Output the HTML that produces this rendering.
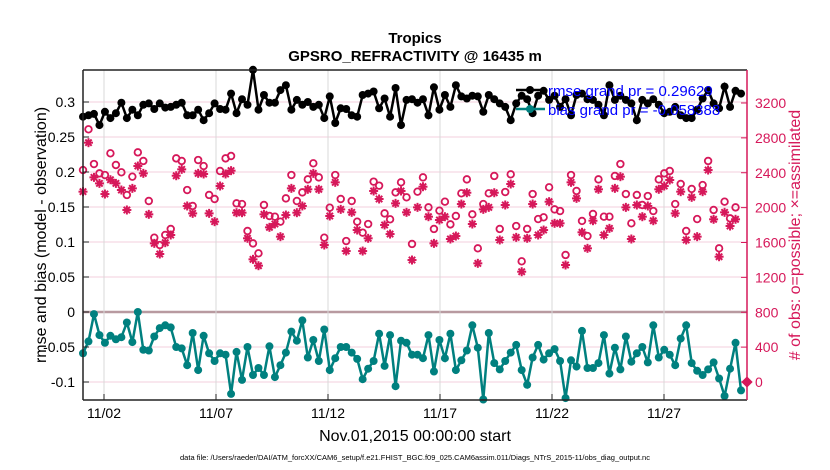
<!DOCTYPE html>
<html><head><meta charset="utf-8">
<style>
body{margin:0;background:#fff;}
svg{display:block;font-family:"Liberation Sans",sans-serif;}
</style></head>
<body>
<svg id="chart" width="830" height="470" viewBox="0 0 830 470" xmlns="http://www.w3.org/2000/svg">
<g id="grid"></g>
<g id="series"></g>
<g id="axes"></g>
<text x="415" y="43" text-anchor="middle" font-size="15" font-weight="bold">Tropics</text>
<text x="415" y="61" text-anchor="middle" font-size="15" font-weight="bold">GPSRO_REFRACTIVITY @ 16435 m</text>
<text transform="translate(46,235) rotate(-90)" text-anchor="middle" font-size="16">rmse and bias (model - observation)</text>
<text transform="translate(800,235) rotate(-90)" text-anchor="middle" font-size="16" fill="#d6185a"># of obs: o=possible; ×=assimilated</text>
<text x="415" y="441" text-anchor="middle" font-size="16">Nov.01,2015 00:00:00 start</text>
<text x="415" y="460" text-anchor="middle" font-size="7.5">data file: /Users/raeder/DAI/ATM_forcXX/CAM6_setup/f.e21.FHIST_BGC.f09_025.CAM6assim.011/Diags_NTrS_2015-11/obs_diag_output.nc</text>
<g>
<line x1="516" y1="90" x2="545" y2="90" stroke="#000" stroke-width="2.5"/>
<circle cx="530" cy="90" r="4" fill="#000"/>
<text x="548" y="96" font-size="15" fill="#0000ff">rmse grand pr = 0.29629</text>
<line x1="516" y1="109" x2="545" y2="109" stroke="#00807f" stroke-width="2.5"/>
<circle cx="530" cy="109" r="4" fill="#00807f"/>
<text x="548" y="115" font-size="15" fill="#0000ff">bias grand pr = -0.058388</text>
</g>
</svg>
<script>
const rmse=[0.279,0.281,0.283,0.267,0.286,0.277,0.284,0.299,0.277,0.289,0.281,0.296,0.298,0.290,0.298,0.292,0.293,0.296,0.299,0.281,0.281,0.289,0.274,0.284,0.298,0.290,0.289,0.312,0.284,0.304,0.296,0.346,0.289,0.310,0.299,0.299,0.317,0.324,0.289,0.303,0.296,0.300,0.293,0.296,0.277,0.308,0.270,0.291,0.290,0.281,0.279,0.310,0.312,0.315,0.291,0.305,0.279,0.320,0.267,0.303,0.304,
0.299,0.304,0.281,0.321,0.289,0.310,0.293,0.324,0.308,0.305,0.309,0.308,0.286,0.310,0.304,0.298,0.293,0.274,0.298,0.309,0.304,0.284,0.309,0.316,0.303,0.309,0.293,0.304,0.281,0.310,0.312,0.304,0.303,0.296,0.281,0.324,0.303,0.309,0.303,0.298,0.274,0.303,0.298,0.304,0.296,0.284,0.286,0.293,0.281,0.277,0.277,0.289,0.305,0.317,0.298,0.291,0.322,0.293,0.316,0.312];
const bias=[-0.059,-0.042,-0.003,-0.033,-0.044,-0.034,-0.039,-0.036,-0.015,-0.043,0.000,-0.054,-0.055,-0.035,-0.023,-0.019,-0.022,-0.050,-0.052,-0.076,-0.030,-0.083,-0.034,-0.059,-0.070,-0.059,-0.061,-0.117,-0.057,-0.097,-0.050,-0.090,-0.080,-0.090,-0.049,-0.093,-0.076,-0.058,-0.028,-0.041,-0.012,-0.065,-0.040,-0.070,-0.025,-0.083,-0.066,-0.050,-0.050,-0.058,-0.067,-0.096,-0.081,-0.070,-0.031,-0.077,-0.033,-0.106,-0.041,-0.044,-0.061,
-0.061,-0.066,-0.033,-0.085,-0.040,-0.066,-0.031,-0.083,-0.069,-0.055,-0.019,-0.051,-0.125,-0.030,-0.073,-0.082,-0.070,-0.058,-0.047,-0.083,-0.104,-0.065,-0.047,-0.068,-0.059,-0.053,-0.070,-0.123,-0.069,-0.078,-0.027,-0.080,-0.080,-0.073,-0.033,-0.088,-0.051,-0.082,-0.035,-0.071,-0.059,-0.050,-0.072,-0.019,-0.065,-0.054,-0.061,-0.076,-0.038,-0.019,-0.073,-0.084,-0.090,-0.082,-0.072,-0.095,-0.120,-0.081,-0.044,-0.112];
const obsPossible=[2431,2898,2500,2393,2374,2623,2489,2405,2145,2355,2634,2535,2076,1655,1571,1686,1755,2565,2535,2202,2019,2546,2477,2145,2099,2420,2565,2592,2049,2041,1732,1590,1476,2030,1904,1896,1839,2106,2374,2076,2175,2324,2508,2347,1655,1999,2374,2099,1617,2076,1839,1713,1812,2298,2252,1934,1866,2175,2290,2118,1583,2183,
2347,2003,1755,1965,2068,1808,1904,2164,2324,1923,1533,2041,2164,2363,1755,2179,2382,1789,1384,1755,2156,1869,1889,2233,1980,1961,1457,2374,2191,1847,1674,1927,2324,1896,1896,2363,2500,2156,1820,2145,2030,2133,1961,2324,2393,2420,2041,2271,1732,2214,1869,2259,2535,1973,1533,2068,1877,2003];
const obsAssim=[2183,2745,2347,2278,2156,2320,2278,2202,1973,2221,2477,2393,1923,1590,1468,1598,1686,2366,2439,2019,1934,2393,2386,1934,1839,2248,2386,2424,1942,1942,1648,1407,1334,1923,1774,1812,1667,1915,2221,1942,2019,2210,2393,2210,1571,1904,2290,1980,1502,1946,1743,1502,1648,2191,2099,1801,1697,2049,2191,1946,1399,2003,
2240,1896,1590,1858,1896,1640,1674,2041,2171,1812,1361,1980,2003,2171,1629,2030,2271,1659,1265,1648,2041,1686,1743,2068,1820,1820,1342,2290,2106,1717,1533,1850,2210,1686,1762,2221,2355,2003,1640,2030,1896,2019,1850,2210,2248,2317,1934,2183,1629,2118,1667,2183,2431,1866,1437,1946,1789,1866];
const leftTicks=[0.3,0.25,0.2,0.15,0.1,0.05,0,-0.05,-0.1];
const rightTicks=[3200,2800,2400,2000,1600,1200,800,400,0];
const dateTicks=["11/02","11/07","11/12","11/17","11/22","11/27"];
const dateTickDays=[1,6,11,16,21,26];
const firstDay=0.0625, stepDay=0.2448;

const NS="http://www.w3.org/2000/svg";
const X0=83,X1=747,Y0=70,Y1=400;
const xs=d=>81.6+22.4*d;
const yL=v=>312-700*v;
const yR=c=>382-c*279/3200;
function mk(tag,attrs,parent){const e=document.createElementNS(NS,tag);for(const k in attrs)e.setAttribute(k,attrs[k]);parent.appendChild(e);return e;}
const grid=document.getElementById('grid'),ser=document.getElementById('series'),ax=document.getElementById('axes');
const timeOf=i=>firstDay+i*stepDay;

// grid
leftTicks.forEach(v=>{
  const y=yL(v);
  const l=mk('line',{x1:X0,x2:X1,y1:y,y2:y,stroke:v===0?'#b89aa0':'#f3cfdc','stroke-width':v===0?2.5:1},grid);
  
  
});
dateTickDays.forEach((d,i)=>{
  const x=xs(d);
  const l=mk('line',{x1:x,x2:x,y1:Y0,y2:Y1,stroke:'#d8d8d8','stroke-width':1},grid);
  
  
  mk('line',{x1:x,x2:x,y1:Y1,y2:Y1-6,stroke:'#222'},ax);
  const t=mk('text',{x:x,y:Y1+18,'text-anchor':'middle','font-size':14},ax);
  t.textContent=dateTicks[i];
  
  
});

// series: pink obs
const pink='#d6185a';
obsPossible.forEach((c,i)=>{
  const p=mk('circle',{cx:xs(timeOf(i)),cy:yR(c),r:3.3,fill:'none',stroke:pink,'stroke-width':1.8},ser);
  
  
});
obsAssim.forEach((c,i)=>{
  const x=xs(timeOf(i)),y=yR(c);
  const g=mk('g',{stroke:pink,'stroke-width':2},ser);
  
  
  for(let k=0;k<4;k++){const a=k*Math.PI/4;mk('line',{x1:x-4.5*Math.cos(a),y1:y-4.5*Math.sin(a),x2:x+4.5*Math.cos(a),y2:y+4.5*Math.sin(a)},g);}
});
function drawLine(vals,color,name){
  const pts=vals.map((v,i)=>xs(timeOf(i)).toFixed(1)+','+yL(v).toFixed(1)).join(' ');
  const pl=mk('polyline',{points:pts,fill:'none',stroke:color,'stroke-width':2.5},ser);
  
  
  vals.forEach((v,i)=>{
    const c=mk('circle',{cx:xs(timeOf(i)),cy:yL(v),r:4,fill:color},ser);
    
    
  });
}
drawLine(rmse,'#000','rmse');
drawLine(bias,'#00807f','bias');
// diamond marker at right axis zero
const dm=mk('rect',{x:743,y:378,width:8,height:8,fill:pink,transform:'rotate(45 747 382)'},ser);



// axes frame
mk('line',{x1:X0,x2:X0,y1:Y0,y2:Y1,stroke:'#222','stroke-width':1.5},ax);
mk('line',{x1:X0,x2:X1,y1:Y1,y2:Y1,stroke:'#222','stroke-width':1.5},ax);
mk('line',{x1:X0,x2:X1,y1:Y0,y2:Y0,stroke:'#222','stroke-width':1.5},ax);
mk('line',{x1:X1,x2:X1,y1:Y0,y2:Y1,stroke:pink,'stroke-width':1.5},ax);
leftTicks.forEach(v=>{
  const y=yL(v);
  mk('line',{x1:X0,x2:X0+6,y1:y,y2:y,stroke:'#222'},ax);
  const t=mk('text',{x:X0-8,y:y+5,'text-anchor':'end','font-size':14},ax);
  t.textContent=String(v);
  
  
});
rightTicks.forEach(c=>{
  const y=yR(c);
  mk('line',{x1:X1,x2:X1-6,y1:y,y2:y,stroke:pink},ax);
  const t=mk('text',{x:X1+8,y:y+5,'text-anchor':'start','font-size':14,fill:pink},ax);
  t.textContent=String(c);
  
  
});
</script>
</body></html>
